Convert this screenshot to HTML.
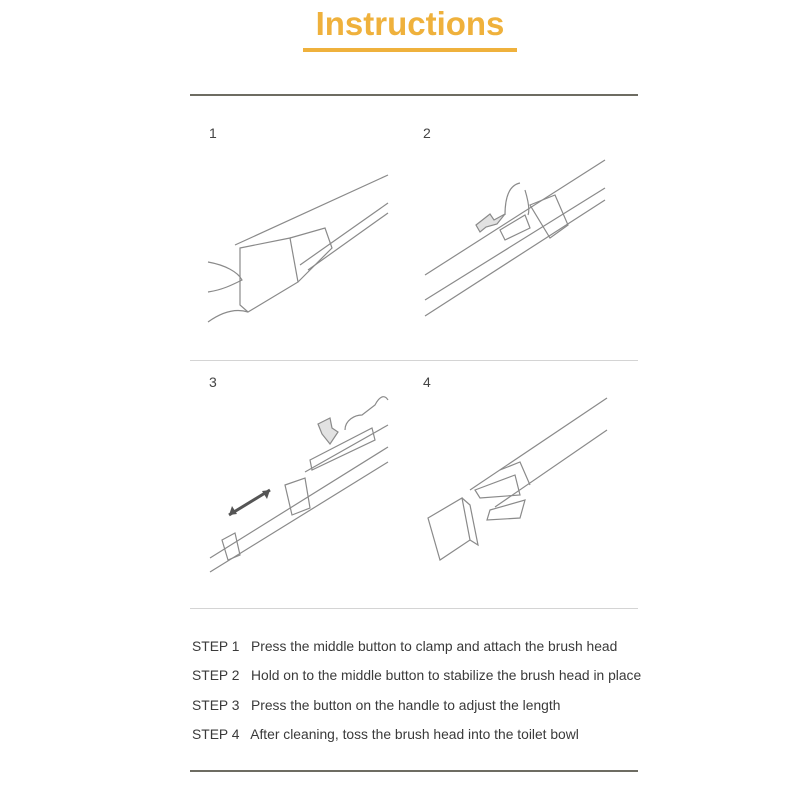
<!DOCTYPE html>
<html><head><style>
body{margin:0;background:#fff;}
svg{display:block}
</style></head><body>
<svg width="800" height="800" viewBox="0 0 800 800" xmlns="http://www.w3.org/2000/svg">
<rect width="800" height="800" fill="#fff"/>
<text x="410" y="35" text-anchor="middle" font-family="Liberation Sans, sans-serif" font-weight="bold" font-size="33" fill="#efb13c">Instructions</text>
<rect x="303" y="48" width="214" height="4" fill="#efb13c"/>
<rect x="190" y="94" width="448" height="2" fill="#6d6c62"/>
<rect x="190" y="360" width="448" height="1" fill="#d4d4d4"/>
<rect x="190" y="608" width="448" height="1" fill="#d4d4d4"/>
<rect x="190" y="770" width="448" height="2" fill="#6d6c62"/>
<g font-family="Liberation Sans, sans-serif" font-size="14" fill="#444">
<text x="209" y="138">1</text><text x="423" y="138">2</text>
<text x="209" y="387">3</text><text x="423" y="387">4</text>
</g>
<g fill="none" stroke="#8a8a8a" stroke-width="1.2">
<line x1="235" y1="245" x2="388" y2="175"/>
<line x1="300" y1="265" x2="388" y2="203"/>
<line x1="308" y1="270" x2="388" y2="213"/>
<path d="M240 248 L290 238 L298 282 L248 312 L240 305 Z"/>
<path d="M290 238 L325 228 L332 248 L298 282"/>
<path d="M208 262 C225 265 238 272 242 280 C232 285 222 290 208 292"/>
<path d="M208 322 C222 312 235 308 248 312"/>
<line x1="425" y1="275" x2="605" y2="160"/>
<line x1="425" y1="300" x2="605" y2="188"/>
<line x1="425" y1="316" x2="605" y2="200"/>
<path d="M530 205 L555 195 L568 225 L550 238 Z"/>
<path d="M500 230 L525 215 L530 228 L505 240 Z"/>
<path d="M505 215 C505 195 510 185 520 183 M525 190 C528 200 530 210 528 215"/>
<path d="M476 225 L490 214 L494 220 L505 214 L497 224 L486 227 L480 232 Z" fill="#e2e2e2"/>
<line x1="305" y1="472" x2="388" y2="425"/>
<line x1="210" y1="558" x2="388" y2="447"/>
<line x1="210" y1="572" x2="388" y2="462"/>
<path d="M310 460 L372 428 L375 440 L312 470 Z"/>
<path d="M285 485 L305 478 L310 508 L292 515 Z"/>
<path d="M222 540 L235 533 L240 555 L228 560 Z"/>
<path d="M345 430 C345 420 355 415 362 415 L375 405 C380 395 385 395 388 400"/>
<path d="M318 424 L330 418 L332 428 L338 432 L330 444 L322 434 Z" fill="#e2e2e2"/>
<line x1="470" y1="490" x2="607" y2="398"/>
<line x1="495" y1="507" x2="607" y2="430"/>
<path d="M475 490 L515 475 L520 495 L480 498 Z"/>
<path d="M490 510 L525 500 L520 518 L487 520 Z"/>
<path d="M500 470 L520 462 L530 485"/>
<path d="M428 518 L462 498 L470 540 L440 560 Z"/>
<path d="M462 498 L470 505 L478 545 L470 540"/>
</g>
<path d="M229 515 L270 490" stroke="#555" stroke-width="3" fill="none"/>
<path d="M229 515 l3 -9 l5 8 z M270 490 l-3 9 l-5 -8 z" fill="#555"/>
<g font-family="Liberation Sans, sans-serif" font-size="13.85" fill="#3a3a3a">
<text x="192" y="651">STEP 1&#160;&#160; Press the middle button to clamp and attach the brush head</text>
<text x="192" y="680">STEP 2&#160;&#160; Hold on to the middle button to stabilize the brush head in place</text>
<text x="192" y="710">STEP 3&#160;&#160; Press the button on the handle to adjust the length</text>
<text x="192" y="739">STEP 4&#160;&#160; After cleaning, toss the brush head into the toilet bowl</text>
</g>
</svg>
</body></html>
